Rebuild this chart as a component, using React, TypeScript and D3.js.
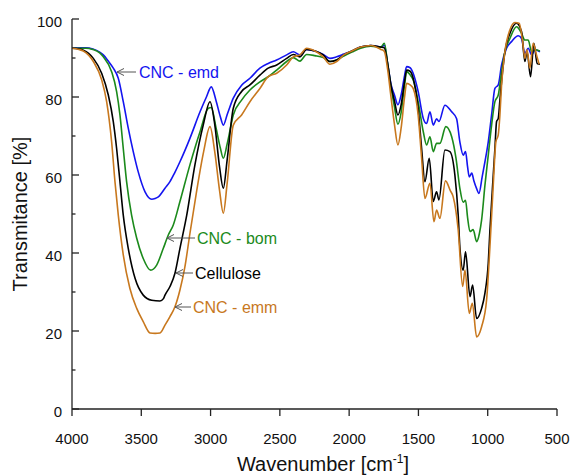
import React from 'react';
import * as d3 from 'd3';

// FTIR spectra, [wavenumber cm-1, transmittance %]
const cncEmd: [number, number][] = [
  [4000, 92.6], [3900, 92.6], [3850, 92.3], [3800, 91.5], [3774, 90.8], [3740, 89.3], [3702, 87.4],
  [3666, 84.8], [3630, 78.8], [3594, 72], [3558, 66], [3522, 60.8], [3473, 55.7], [3425, 53.8],
  [3400, 54.0], [3377, 54.4], [3329, 56.6], [3293, 58.3], [3260, 60.5], [3221, 63.4], [3149, 69.4],
  [3076, 76.2], [3030, 80], [2995, 82.6], [2960, 79], [2930, 75], [2908, 72.8], [2880, 75.5],
  [2836, 79.7], [2776, 83], [2716, 84.8], [2644, 87.4], [2584, 88.6], [2523, 89.5], [2451, 90.8],
  [2403, 91.6], [2355, 90.8], [2307, 92.2], [2247, 91.8], [2187, 90.9], [2139, 89.9], [2090, 90.3],
  [2038, 91], [1980, 91.8], [1917, 92.8], [1844, 93.2], [1771, 92.8], [1746, 93.3], [1722, 88.5],
  [1698, 83.3], [1673, 80.5], [1648, 78], [1625, 80.5], [1600, 85.5], [1585, 87.8], [1560, 87.5],
  [1538, 86.1], [1502, 81.4], [1465, 74.5], [1441, 73.2], [1417, 76.2], [1393, 72.8], [1369, 74.4],
  [1352, 73.7], [1309, 77.9], [1260, 76.2], [1225, 74.5], [1201, 68.5], [1177, 65.1], [1160, 66],
  [1145, 62], [1133, 59.5], [1115, 60.5], [1100, 58.5], [1080, 56.5], [1063, 55.3], [1040, 59.5],
  [1020, 63.4], [996, 68.5], [972, 75.4], [948, 82.2], [924, 83.1], [900, 88.2], [864, 92.5],
  [828, 94.2], [780, 95.7], [756, 95], [732, 91.2], [708, 92.5], [683, 90.8], [659, 92.1], [623, 91.6],
];

const cncBom: [number, number][] = [
  [4000, 92.5], [3900, 92.5], [3850, 92.2], [3800, 91.3], [3774, 90.3], [3714, 86.5], [3678, 81.4],
  [3654, 75.4], [3630, 66.8], [3606, 58.3], [3570, 49.7], [3533, 43.8], [3486, 38.6], [3432, 35.6],
  [3389, 36.9], [3341, 41.2], [3305, 44.6], [3269, 47.2], [3221, 53.2], [3149, 62.6], [3076, 71.1],
  [3016, 77.1], [2995, 77.3], [2960, 72], [2930, 67], [2908, 64.3], [2880, 68], [2836, 75.4],
  [2776, 79.2], [2716, 81.8], [2644, 83.9], [2584, 85.2], [2523, 86.9], [2451, 89.1], [2403, 90.1],
  [2355, 89.2], [2307, 90.9], [2247, 90.6], [2187, 90.1], [2139, 89.1], [2090, 89.5], [2038, 90.5],
  [1980, 91.5], [1917, 92.5], [1844, 93], [1771, 92.8], [1746, 93.8], [1722, 88.5], [1698, 82.5],
  [1673, 77.5], [1648, 73], [1625, 76], [1600, 83], [1585, 86.5], [1560, 85.7], [1538, 84.4],
  [1502, 78.8], [1465, 71.1], [1441, 67.7], [1417, 69.8], [1393, 66], [1369, 68.1], [1345, 68.1],
  [1302, 72.4], [1260, 69.8], [1229, 64.3], [1201, 56.6], [1177, 53], [1160, 53.5], [1145, 49],
  [1128, 45.5], [1105, 46], [1080, 42.9], [1060, 45], [1044, 48.5], [1020, 57.4], [996, 65.1],
  [972, 72.8], [948, 78.8], [924, 80.5], [900, 86.5], [876, 91.6], [840, 95], [792, 98], [756, 96.3],
  [732, 94.6], [708, 94.6], [683, 91.6], [659, 92.1], [623, 91.8],
];

const cellulose: [number, number][] = [
  [4000, 92.5], [3950, 92.3], [3918, 92.0], [3880, 91.2], [3846, 89.9], [3786, 86.1], [3738, 80.5],
  [3702, 73.7], [3678, 66.8], [3654, 58.3], [3630, 49.7], [3594, 41.2], [3545, 33.5], [3486, 29.2],
  [3425, 27.9], [3365, 27.7], [3340, 28.3], [3329, 29.2], [3293, 31.4], [3257, 34.8], [3221, 41.2],
  [3172, 49.7], [3113, 62.6], [3053, 72.8], [3004, 78.8], [2970, 73], [2935, 62], [2908, 56.6],
  [2880, 64], [2836, 77.1], [2776, 81.4], [2716, 83.1], [2644, 85.6], [2584, 87.4], [2523, 88.2],
  [2451, 89.9], [2403, 90.9], [2355, 90.3], [2307, 92.2], [2247, 91.8], [2187, 90.8], [2139, 89.1],
  [2090, 89.5], [2038, 90.8], [1980, 91.8], [1917, 92.8], [1844, 93.2], [1771, 92.8], [1746, 92.6],
  [1722, 88.5], [1698, 83], [1673, 79], [1648, 75.4], [1625, 78], [1600, 84], [1585, 86.9],
  [1560, 86.6], [1538, 84.8], [1502, 77.1], [1477, 66.8], [1453, 58.3], [1422, 64.3], [1393, 53.2],
  [1369, 55.7], [1352, 53.6], [1309, 66.4], [1273, 66], [1237, 60], [1213, 49.7], [1201, 41.6],
  [1177, 35.6], [1160, 40.3], [1128, 28.8], [1109, 31.8], [1080, 23.2], [1044, 25.8], [1020, 29.7],
  [996, 37.4], [984, 45.9], [960, 60], [948, 66.8], [936, 73.7], [924, 74.5], [912, 79.2], [900, 83.9],
  [876, 91.6], [840, 96.3], [792, 98.9], [756, 96.8], [732, 89.1], [716, 91.6], [691, 85.2],
  [667, 93.8], [643, 88.6], [623, 88.4],
];

const cncEmm: [number, number][] = [
  [4000, 92.5], [3950, 92.2], [3918, 91.8], [3846, 89.1], [3786, 84.4], [3750, 78.8], [3714, 68.5],
  [3690, 58.3], [3666, 49.7], [3630, 39.5], [3582, 30.9], [3533, 25.8], [3486, 22.4], [3437, 19.5],
  [3400, 19.4], [3365, 19.5], [3329, 21.5], [3293, 23.7], [3257, 26.2], [3221, 30.5], [3185, 36.5],
  [3149, 45], [3100, 56], [3050, 66], [3004, 72.4], [2970, 66], [2935, 56], [2908, 50.2], [2880, 58],
  [2836, 72.8], [2776, 75.4], [2716, 78.8], [2644, 82.2], [2584, 85.2], [2523, 86.1], [2451, 88.2],
  [2403, 90.3], [2355, 90.8], [2307, 92.5], [2247, 91.8], [2187, 90.3], [2139, 88.4], [2090, 89.1],
  [2038, 90.8], [1980, 91.8], [1917, 92.8], [1844, 93.2], [1771, 92.2], [1746, 91.7], [1722, 87],
  [1698, 80], [1673, 73], [1648, 67.7], [1625, 72], [1600, 80], [1585, 83.5], [1560, 83.1],
  [1538, 82.2], [1502, 75.4], [1477, 64.3], [1453, 54], [1417, 57.9], [1388, 48], [1369, 51],
  [1345, 48.9], [1305, 58.5], [1270, 56], [1249, 54.4], [1213, 45.9], [1181, 31.4], [1164, 35.6],
  [1133, 24.5], [1111, 27.1], [1080, 18.5], [1044, 21.1], [1008, 28], [984, 41.6], [960, 57.4],
  [941, 68.5], [924, 70.3], [912, 75.4], [900, 83.1], [876, 91.6], [840, 97.2], [804, 99.1],
  [773, 98.9], [748, 94.2], [732, 89.9], [716, 92.1], [696, 87.4], [672, 93.8], [648, 90.8], [629, 88.4],
];

const xTicks = [4000, 3500, 3000, 2500, 2000, 1500, 1000, 500];
const yTicks = [0, 20, 40, 60, 80, 100];
const yMinorTicks = [10, 30, 50, 70, 90];

const series = [
  { name: 'CNC - emd', data: cncEmd, color: '#1414f0' },
  { name: 'CNC - bom', data: cncBom, color: '#1b8a1b' },
  { name: 'Cellulose', data: cellulose, color: '#000000' },
  { name: 'CNC - emm', data: cncEmm, color: '#c8781e' },
];

// label anchor: [arrow tip wavenumber-free pixel pos handled below]
const labels = [
  { name: 'CNC - emd', color: '#1414f0', tip: 117, end: 136, y: 72, tx: 139 },
  { name: 'CNC - bom', color: '#1b8a1b', tip: 167, end: 195, y: 238, tx: 197 },
  { name: 'Cellulose', color: '#000000', tip: 176, end: 193, y: 273, tx: 195 },
  { name: 'CNC - emm', color: '#c8781e', tip: 175, end: 191, y: 307, tx: 193 },
];

const font = 'Arial, "Liberation Sans", sans-serif';

export default function App() {
  const x = d3.scaleLinear().domain([4000, 500]).range([72, 557]);
  const y = d3.scaleLinear().domain([0, 100]).range([409, 19]);

  const line = d3
    .line<[number, number]>()
    .x((d) => x(d[0]))
    .y((d) => y(d[1]))
    .curve(d3.curveMonotoneX);

  return (
    <svg
      width={570}
      height={475}
      style={{ position: 'absolute', left: 0, top: 0, background: '#fff' }}
      fontFamily={font}
    >
      {series.map((s) => (
        <path key={s.name} d={line(s.data) || ''} fill="none" stroke={s.color} strokeWidth={1.6} strokeLinejoin="round" />
      ))}

      {/* axes */}
      <g stroke="#222" strokeWidth={1.3} fill="none">
        <line x1={x(4000)} x2={x(4000)} y1={y(0)} y2={y(100)} />
        <line x1={x(4000)} x2={x(500)} y1={y(0)} y2={y(0)} />
        {xTicks.map((t) => (
          <line key={t} x1={x(t)} x2={x(t)} y1={y(0)} y2={y(0) + 7} />
        ))}
        {yTicks.map((t) => (
          <line key={t} x1={x(4000)} x2={x(4000) + 7} y1={y(t)} y2={y(t)} />
        ))}
        {yMinorTicks.map((t) => (
          <line key={t} x1={x(4000)} x2={x(4000) + 3.5} y1={y(t)} y2={y(t)} />
        ))}
      </g>

      <g fontSize={15} fill="#111">
        {xTicks.map((t) => (
          <text key={t} x={x(t)} y={444} textAnchor="middle">{t}</text>
        ))}
        {yTicks.map((t) => (
          <text key={t} x={62} y={y(t) + 8} textAnchor="end">{t}</text>
        ))}
      </g>

      <text x={323} y={471} textAnchor="middle" fontSize={20} fill="#111">
        Wavenumber [cm<tspan dy={-8} fontSize={12}>-1</tspan><tspan dy={8}>]</tspan>
      </text>
      <text transform="translate(27,214) rotate(-90)" textAnchor="middle" fontSize={20} fill="#111">
        Transmitance [%]
      </text>

      {labels.map((l) => (
        <g key={l.name}>
          <path
            d={`M${l.end},${l.y}L${l.tip},${l.y}M${l.tip + 7},${l.y - 3.5}L${l.tip},${l.y}L${l.tip + 7},${l.y + 3.5}`}
            fill="none"
            stroke="#555"
            strokeWidth={1}
          />
          <text x={l.tx} y={l.y + 6} fontSize={16} fill={l.color}>{l.name}</text>
        </g>
      ))}
    </svg>
  );
}
